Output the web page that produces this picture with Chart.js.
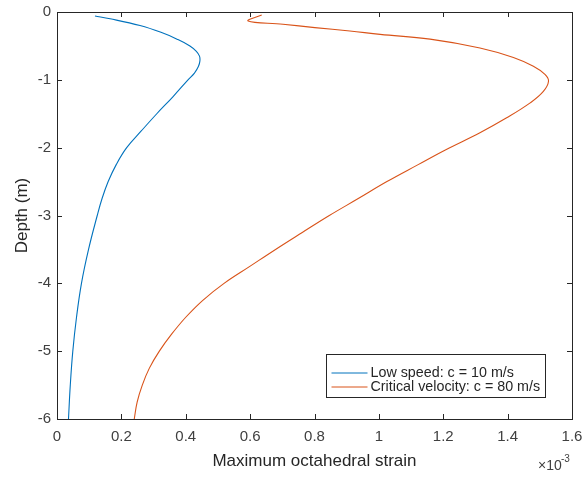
<!DOCTYPE html>
<html>
<head>
<meta charset="utf-8">
<script src="https://cdn.jsdelivr.net/npm/chart.js@4"></script>
<style>
  body { margin: 0; background: #fff; }
  #wrap { width: 586px; height: 477px; }
</style>
</head>
<body>
<div id="wrap"><canvas id="strainChart" width="586" height="477"></canvas></div>
<script>
// strain values in units of 1e-3, depth in m
const lowSpeedStrain = [0.118, 0.165, 0.258, 0.323, 0.373, 0.413, 0.433, 0.4427, 0.444, 0.4396, 0.427, 0.407, 0.360, 0.310, 0.2625, 0.2165, 0.184, 0.159, 0.140, 0.125, 0.098, 0.076, 0.0606, 0.0491, 0.0413, 0.0357]
const lowSpeedDepth  = [-0.06, -0.10, -0.20, -0.30, -0.40, -0.50, -0.58, -0.65, -0.72, -0.80, -0.90, -1.00, -1.25, -1.50, -1.75, -2.00, -2.25, -2.50, -2.75, -3.00, -3.50, -4.00, -4.50, -5.00, -5.50, -6.00]

const criticalStrain = [0.636, 0.594, 0.702, 0.801, 0.910, 1.004, 1.159, 1.314, 1.418, 1.480, 1.516, 1.527, 1.511, 1.470, 1.397, 1.314, 1.208, 1.122, 1.025, 0.936, 0.846, 0.762, 0.679, 0.599, 0.519, 0.453, 0.400, 0.356, 0.318, 0.287, 0.265, 0.249, 0.240]
const criticalDepth  = [-0.044, -0.133, -0.18, -0.23, -0.28, -0.33, -0.40, -0.53, -0.67, -0.80, -0.92, -1.02, -1.17, -1.34, -1.56, -1.78, -2.03, -2.25, -2.50, -2.75, -3.00, -3.25, -3.50, -3.75, -4.00, -4.25, -4.50, -4.75, -5.00, -5.25, -5.50, -5.75, -6.00]

const xTickValues = [0, 0.2, 0.4, 0.6, 0.8, 1, 1.2, 1.4, 1.6]
const xTickLabels = ['0', '0.2', '0.4', '0.6', '0.8', '1', '1.2', '1.4', '1.6']
const yTickValues = [0, -1, -2, -3, -4, -5, -6]
const yTickLabels = ['0', '-1', '-2', '-3', '-4', '-5', '-6']

const FONT = '"Liberation Sans", Arial, sans-serif'
const AXIS_COLOR = '#262626'

function toPoints(xs, ys) {
    return xs.map((x, i) => ({ x: x, y: ys[i] }))
}

// top/right box edges plus inward tick marks, MATLAB style
const boxTicks = {
    id: 'boxTicks',
    afterDatasetsDraw(chart) {
        const { ctx, chartArea: a, scales } = chart
        const len = 5
        ctx.save()
        ctx.strokeStyle = AXIS_COLOR
        ctx.lineWidth = 1
        ctx.beginPath()
        ctx.moveTo(a.left, a.top + 0.5)
        ctx.lineTo(a.right + 0.5, a.top + 0.5)
        ctx.lineTo(a.right + 0.5, a.bottom)
        xTickValues.forEach(v => {
            const px = Math.round(scales.x.getPixelForValue(v)) + 0.5
            ctx.moveTo(px, a.bottom); ctx.lineTo(px, a.bottom - len)
            ctx.moveTo(px, a.top); ctx.lineTo(px, a.top + len)
        })
        yTickValues.forEach(v => {
            const py = Math.round(scales.y.getPixelForValue(v)) + 0.5
            ctx.moveTo(a.left, py); ctx.lineTo(a.left + len, py)
            ctx.moveTo(a.right, py); ctx.lineTo(a.right - len, py)
        })
        ctx.stroke()
        ctx.restore()
    },
    afterDraw(chart) {
        const { ctx, chartArea: a } = chart
        ctx.save()
        // exponent label
        ctx.fillStyle = '#404040'
        ctx.textBaseline = 'alphabetic'
        ctx.textAlign = 'left'
        ctx.font = '14px ' + FONT
        ctx.fillText('\u00d710', a.right - 34, a.bottom + 51)
        ctx.font = '10px ' + FONT
        ctx.fillText('-3', a.right - 11, a.bottom + 43)

        // legend
        const bx = a.right - 245.5, by = a.bottom - 64.5, bw = 219, bh = 43
        ctx.fillStyle = '#fff'
        ctx.fillRect(bx, by, bw, bh)
        ctx.strokeStyle = AXIS_COLOR
        ctx.lineWidth = 1
        ctx.strokeRect(bx, by, bw, bh)
        ctx.font = '14.3px ' + FONT
        ctx.textBaseline = 'middle'
        chart.data.datasets.forEach((ds, i) => {
            const yy = by + 18.5 + i * 14
            ctx.strokeStyle = ds.borderColor
            ctx.beginPath()
            ctx.moveTo(bx + 5, yy); ctx.lineTo(bx + 41, yy)
            ctx.stroke()
            ctx.fillStyle = '#262626'
            ctx.fillText(ds.label, bx + 44, yy)
        })
        ctx.restore()
    }
}

const ctx = document.getElementById('strainChart').getContext('2d')
const chart = new Chart(ctx, {
    type: 'line',
    data: {
        datasets: [
            {
                label: 'Low speed: c = 10 m/s',
                data: toPoints(lowSpeedStrain, lowSpeedDepth),
                borderColor: '#0072BD',
                borderWidth: 1.1,
                pointRadius: 0,
                fill: false,
                tension: 0.4
            },
            {
                label: 'Critical velocity: c = 80 m/s',
                data: toPoints(criticalStrain, criticalDepth),
                borderColor: '#D95319',
                borderWidth: 1.1,
                pointRadius: 0,
                fill: false,
                tension: 0.4
            }
        ]
    },
    options: {
        responsive: false,
        animation: false,
        layout: { padding: { left: 0, right: 14, top: 12, bottom: 0 } },
        plugins: {
            legend: { display: false },
            tooltip: { enabled: false }
        },
        scales: {
            x: {
                type: 'linear',
                min: 0,
                max: 1.6,
                afterBuildTicks: s => { s.ticks = xTickValues.map(v => ({ value: v })) },
                afterFit: s => { s.height = 58; s.paddingLeft = 0; s.paddingRight = 0 },
                grid: { display: false, drawTicks: false },
                border: { display: true, color: AXIS_COLOR, width: 1 },
                ticks: {
                    padding: 9,
                    color: '#404040',
                    font: { family: FONT, size: 15 },
                    maxRotation: 0,
                    autoSkip: false,
                    callback: (v, i) => xTickLabels[i]
                },
                title: {
                    display: true,
                    text: 'Maximum octahedral strain',
                    color: '#262626',
                    font: { family: FONT, size: 17 },
                    padding: { top: 0, bottom: 5 }
                }
            },
            y: {
                type: 'linear',
                min: -6,
                max: 0,
                afterBuildTicks: s => { s.ticks = yTickValues.map(v => ({ value: v })) },
                afterFit: s => { s.width = 57; s.paddingTop = 0; s.paddingBottom = 0 },
                grid: { display: false, drawTicks: false },
                border: { display: true, color: AXIS_COLOR, width: 1 },
                ticks: {
                    padding: 6,
                    color: '#404040',
                    font: { family: FONT, size: 15 },
                    autoSkip: false,
                    callback: (v, i) => yTickLabels[i]
                },
                title: {
                    display: true,
                    text: 'Depth (m)',
                    color: '#262626',
                    font: { family: FONT, size: 17 },
                    padding: { top: 12, bottom: 0 }
                }
            }
        }
    },
    plugins: [boxTicks]
})
</script>
</body>
</html>
